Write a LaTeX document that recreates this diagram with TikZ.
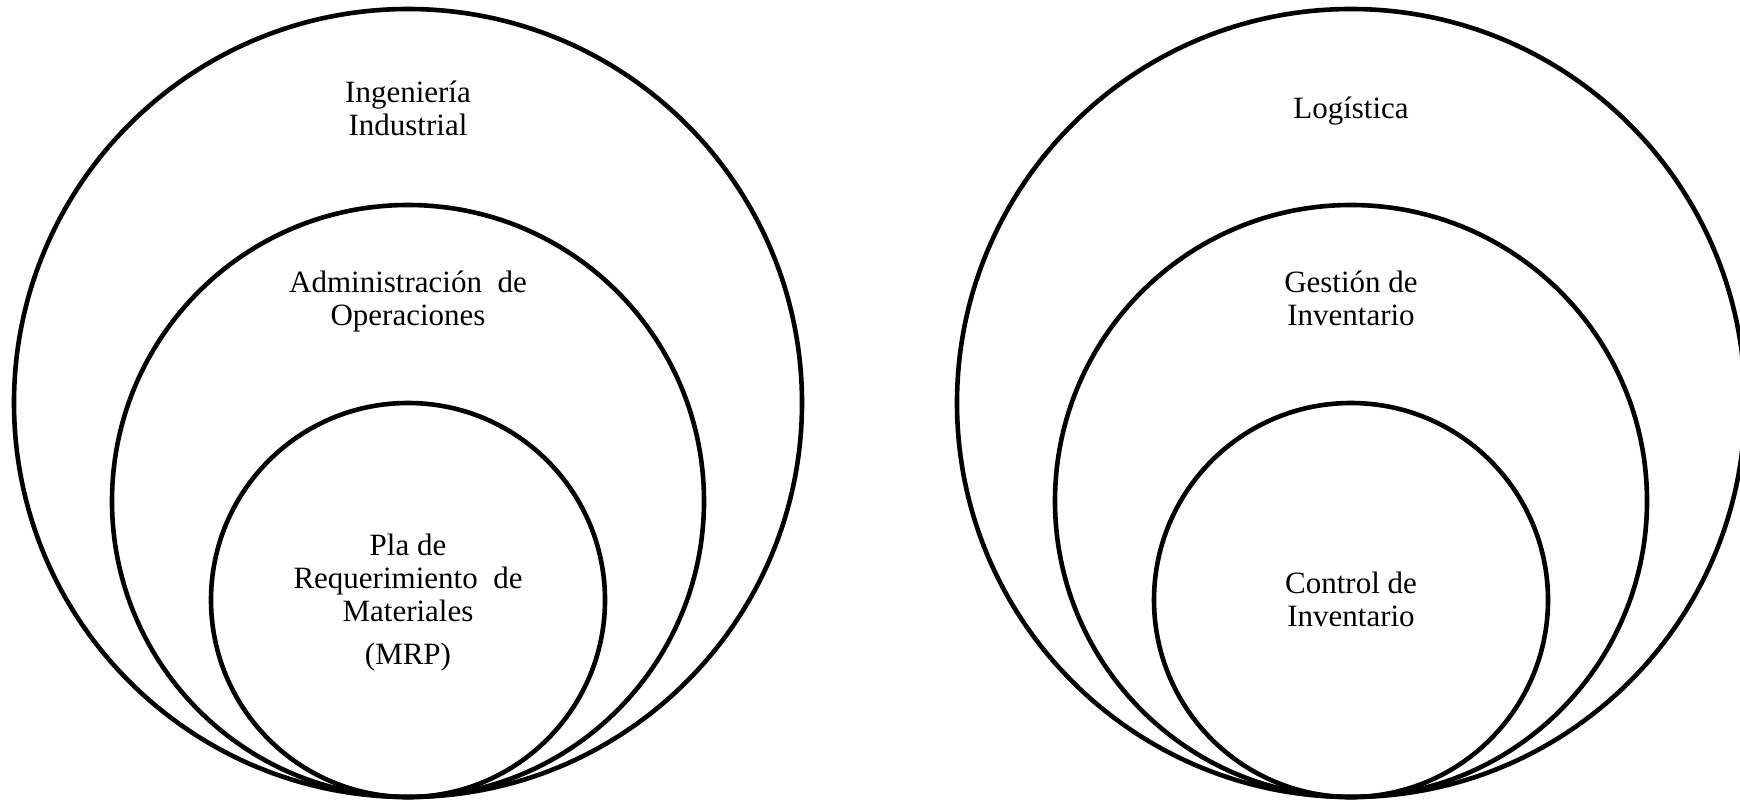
\documentclass[tikz,border=0pt]{standalone}
\usepackage{fontspec}
\setmainfont{Liberation Serif}
\begin{document}
\begin{tikzpicture}[x=1pt,y=-1pt,
  ring/.style={circle,draw,line width=4.6pt,inner sep=0pt,outer sep=0pt},
  lbl/.style={anchor=base,inner sep=0pt,font=\fontsize{31}{33}\selectfont}]
\useasboundingbox (0,0) rectangle (1740,800);
% left set
\node[ring,minimum size=788pt] (lo) at (408,403) {};
\node[ring,minimum size=592pt] (lm) at (408,501) {};
\node[ring,minimum size=394pt] (li) at (408,600) {};
\node[lbl] (lot) at (408,102) {\begin{tabular}[t]{@{}c@{}}Ingeniería\\Industrial\end{tabular}};
\node[lbl] (lmt) at (408,292) {\begin{tabular}[t]{@{}c@{}}Administración\ \ de\\Operaciones\end{tabular}};
\node[lbl] (lit) at (408,555) {\begin{tabular}[t]{@{}c@{}}Pla de\\Requerimiento\ \ de\\Materiales\\[10pt](MRP)\end{tabular}};
% right set
\node[ring,minimum size=788pt] (ro) at (1351,403) {};
\node[ring,minimum size=592pt] (rm) at (1351,501) {};
\node[ring,minimum size=394pt] (ri) at (1351,600) {};
\node[lbl] (rot) at (1351,118) {Logística};
\node[lbl] (rmt) at (1351,292) {\begin{tabular}[t]{@{}c@{}}Gestión de\\Inventario\end{tabular}};
\node[lbl] (rit) at (1351,593) {\begin{tabular}[t]{@{}c@{}}Control de\\Inventario\end{tabular}};
\end{tikzpicture}
\end{document}
